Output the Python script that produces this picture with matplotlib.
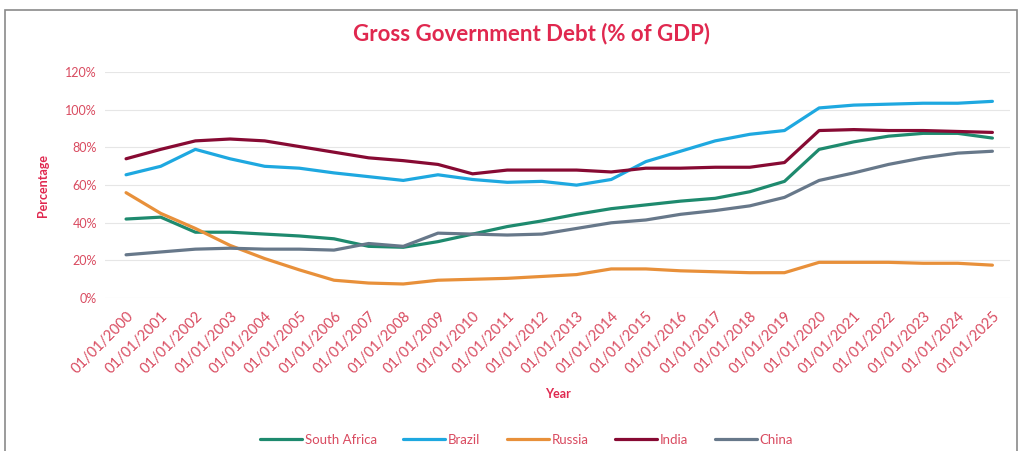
import numpy as np
import matplotlib.pyplot as plt
from matplotlib.patches import Rectangle

plt.rcParams['font.family'] = ['Lato', 'DejaVu Sans']

# Años y etiquetas del eje x
years = list(range(2000, 2026))
x_labels = ["01/01/%d" % y for y in years]

# Deuda bruta del gobierno (% del PIB)
south_africa = [42, 43, 35, 35, 34, 33, 31.5, 27.5, 27, 30, 34, 38, 41, 44.5, 47.5, 49.5,
                51.5, 53, 56.5, 62, 79, 83, 86, 87.5, 87.5, 85]
brazil = [65.5, 70, 79, 74, 70, 69, 66.5, 64.5, 62.5, 65.5, 63, 61.5, 62, 60, 63, 72.5,
          78, 83.5, 87, 89, 101, 102.5, 103, 103.5, 103.5, 104.5]
russia = [56, 45, 37, 28, 21, 15, 9.5, 8, 7.5, 9.5, 10, 10.5, 11.5, 12.5, 15.5, 15.5,
          14.5, 14, 13.5, 13.5, 19, 19, 19, 18.5, 18.5, 17.5]
india = [74, 79, 83.5, 84.5, 83.5, 80.5, 77.5, 74.5, 73, 71, 66, 68, 68, 68, 67, 69,
         69, 69.5, 69.5, 72, 89, 89.5, 89, 89, 88.5, 88]
china = [23, 24.5, 26, 26.5, 26, 26, 25.5, 29, 27.5, 34.5, 34, 33.5, 34, 37, 40, 41.5,
         44.5, 46.5, 49, 53.5, 62.5, 66.5, 71, 74.5, 77, 78]

series = [("South Africa", south_africa, "#1e8a6e"),
          ("Brazil", brazil, "#1ea8e0"),
          ("Russia", russia, "#e8903a"),
          ("India", india, "#870a33"),
          ("China", china, "#67788a")]

red = "#e0284f"
tick_red = "#d94b60"

fig = plt.figure(figsize=(10.22, 4.51), dpi=100)
ax = fig.add_axes([0.103, 0.339, 0.885, 0.501])

x = np.arange(len(years))
for name, vals, col in series:
    ax.plot(x, np.array(vals) / 100, color=col, lw=2.3, label=name, solid_capstyle='round')

ax.set_ylim(0, 1.2)
ax.set_yticks(np.arange(0, 1.21, 0.2))
ax.set_yticklabels(["%d%%" % round(v * 100) for v in np.arange(0, 1.21, 0.2)],
                   color=tick_red, fontsize=9)
ax.set_xlim(-0.6, 25.5)
ax.set_xticks(x)
ax.set_xticklabels(x_labels, rotation=45, ha='right', rotation_mode='anchor',
                   color=tick_red, fontsize=10.5)
ax.tick_params(axis='x', length=0, pad=8)
ax.tick_params(axis='y', length=0, pad=6)
ax.grid(axis='y', color='#e6e6e6', lw=0.8)
ax.set_axisbelow(True)
for s in ax.spines.values():
    s.set_visible(False)

ax.set_ylabel("Percentage", color=red, fontsize=9, fontweight='bold', labelpad=12)
ax.set_xlabel("Year", color=red, fontsize=9, fontweight='bold', labelpad=8)
fig.text(0.52, 0.925, "Gross Government Debt (% of GDP)", ha='center', va='center',
         color=red, fontsize=16, fontweight='bold')

leg = fig.legend(loc='center', bbox_to_anchor=(0.515, 0.025), ncol=5, frameon=False,
                 fontsize=9.5, handlelength=3.2, columnspacing=2.0, handletextpad=0.2)
for t in leg.get_texts():
    t.set_color(tick_red)

# marco del gráfico
fig.add_artist(Rectangle((0.005, -0.01), 0.99, 0.988, transform=fig.transFigure,
                         fill=False, edgecolor='#8a8a8a', lw=1.2))

plt.savefig("out.png", dpi=100)
